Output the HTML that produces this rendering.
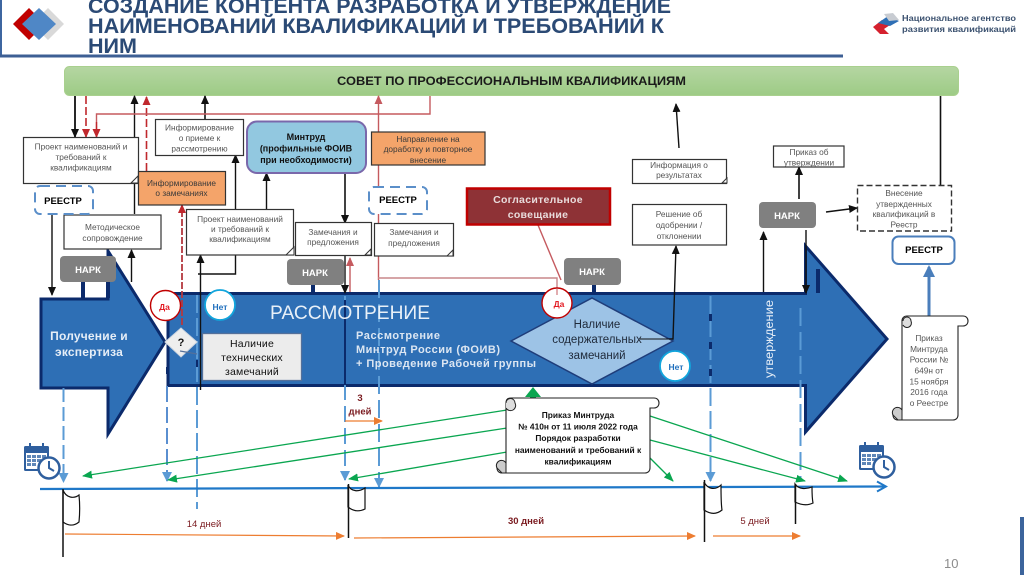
<!DOCTYPE html>
<html lang="ru"><head><meta charset="utf-8"><title>Создание контента</title>
<style>html,body{margin:0;padding:0;background:#fff}svg{display:block}text{font-family:"Liberation Sans",sans-serif}</style></head>
<body>
<svg xmlns="http://www.w3.org/2000/svg" width="1024" height="575" viewBox="0 0 1024 575">
<defs>
<linearGradient id="g" x1="0" y1="0" x2="0" y2="1"><stop offset="0" stop-color="#b5d6a2"/><stop offset="1" stop-color="#9dcb85"/></linearGradient>
<marker id="k" markerWidth="9" markerHeight="8" refX="8" refY="4" orient="auto" markerUnits="userSpaceOnUse"><path d="M0 0L9 4L0 8z" fill="#111"/></marker>
<marker id="r" markerWidth="9" markerHeight="8" refX="8" refY="4" orient="auto" markerUnits="userSpaceOnUse"><path d="M0 0L9 4L0 8z" fill="#c0282d"/></marker>
<marker id="p" markerWidth="9" markerHeight="8" refX="8" refY="4" orient="auto" markerUnits="userSpaceOnUse"><path d="M0 0L9 4L0 8z" fill="#c55a5f"/></marker>
<marker id="b" markerWidth="10" markerHeight="10" refX="9" refY="5" orient="auto" markerUnits="userSpaceOnUse"><path d="M0 0L10 5L0 10z" fill="#5b9bd5"/></marker>
<marker id="n" markerWidth="12" markerHeight="12" refX="10" refY="6" orient="auto" markerUnits="userSpaceOnUse"><path d="M0 0L12 6L0 12z" fill="#4a7ebb"/></marker>
<marker id="v" markerWidth="10" markerHeight="8" refX="9" refY="4" orient="auto" markerUnits="userSpaceOnUse"><path d="M0 0L10 4L0 8z" fill="#0aa650"/></marker>
<marker id="o" markerWidth="9" markerHeight="8" refX="8" refY="4" orient="auto" markerUnits="userSpaceOnUse"><path d="M0 0L9 4L0 8z" fill="#ed7d31"/></marker>
<marker id="t" markerWidth="12" markerHeight="12" refX="9" refY="6" orient="auto" markerUnits="userSpaceOnUse"><path d="M1 1L10 6L1 11" fill="none" stroke="#1f78c8" stroke-width="2"/></marker>
<g id="cal">
<rect x="0" y="3" width="25" height="25" rx="1.500" fill="#2f5f9e"/>
<rect x="2" y="10" width="21" height="16" fill="#fff"/>
<g fill="#5f87b8"><rect x="3" y="12" width="4" height="3"/><rect x="8" y="12" width="4" height="3"/><rect x="13" y="12" width="4" height="3"/><rect x="18" y="12" width="4" height="3"/><rect x="3" y="16" width="4" height="3"/><rect x="8" y="16" width="4" height="3"/><rect x="13" y="16" width="4" height="3"/><rect x="3" y="20" width="4" height="3"/><rect x="8" y="20" width="4" height="3"/></g>
<rect x="5" y="0" width="2" height="6" fill="#2f5f9e"/><rect x="18" y="0" width="2" height="6" fill="#2f5f9e"/>
<circle cx="25" cy="25" r="10.500" fill="#fff" stroke="#2f5f9e" stroke-width="2.500"/>
<path d="M25 18V25L30 28" fill="none" stroke="#2f5f9e" stroke-width="2"/>
</g>
</defs>
<rect width="1024" height="575" fill="#fff"/>

<!-- header -->
<rect x="0" y="0" width="2" height="56" fill="#3d66a0"/>
<rect x="0" y="54.500" width="843" height="3" fill="#3d5f94"/>
<path d="M48 8L64 24L48 40L32 24z" fill="#d9d9d9"/>
<path d="M29 8L45 24L29 40L13 24z" fill="#c00000"/>
<path d="M39 8L56 24L39 40L22 24z" fill="#4f87c6"/>
<g fill="#2b4a75" font-weight="bold" font-size="21">
<text x="88" y="13" textLength="583" lengthAdjust="spacingAndGlyphs">СОЗДАНИЕ КОНТЕНТА РАЗРАБОТКА И УТВЕРЖДЕНИЕ</text>
<text x="88" y="33" textLength="576" lengthAdjust="spacingAndGlyphs">НАИМЕНОВАНИЙ КВАЛИФИКАЦИЙ И ТРЕБОВАНИЙ К</text>
<text x="88" y="53" textLength="49" lengthAdjust="spacingAndGlyphs">НИМ</text>
</g>
<path d="M873 27L882 20L890 25L884 29L889 34L880 34z" fill="#d5212e"/>
<path d="M878 23L888 16L899 21L890 26z" fill="#2e6fb5"/>
<path d="M884 14L893 13L899 20L889 21z" fill="#c8ccd2"/>
<g fill="#3c5270" font-weight="bold" font-size="8.500">
<text x="902" y="21" textLength="114" lengthAdjust="spacingAndGlyphs">Национальное агентство</text>
<text x="902" y="32" textLength="114" lengthAdjust="spacingAndGlyphs">развития квалификаций</text>
</g>

<!-- green bar -->
<rect x="64.500" y="66.500" width="894" height="29" rx="5" fill="url(#g)" stroke="#a9d08e"/>
<text x="337" y="85" font-size="11.500" font-weight="bold" fill="#1a1a1a" textLength="349" lengthAdjust="spacingAndGlyphs">СОВЕТ ПО ПРОФЕССИОНАЛЬНЫМ КВАЛИФИКАЦИЯМ</text>

<!-- main arrows -->
<path d="M41 299H108V251L165 342L108 434V388H41z" fill="#2e6fb5" stroke="#0b2a6b" stroke-width="3" stroke-linejoin="miter"/>
<path d="M168 293.500H805.500V246L887 339L805.500 432V385.500H168z" fill="#2e6fb5" stroke="#0b2a6b" stroke-width="3"/>
<g fill="#0b2a6b">
<rect x="81" y="282" width="4" height="16"/><rect x="106" y="282" width="4" height="16"/>
<rect x="311" y="285" width="4" height="8"/><rect x="592" y="285" width="4" height="8"/><rect x="816" y="269" width="4" height="24"/>
</g>

<!-- blue dashed verticals -->
<g fill="none" stroke="#5b9bd5" stroke-width="2">
<path d="M63.500 388V482" stroke-dasharray="14 5" marker-end="url(#b)"/>
<path d="M167 386V481" stroke-dasharray="16 5" marker-end="url(#b)" stroke="#5a8fd0"/>
<path d="M197 295V509" stroke-dasharray="18 5"/>
<path d="M345 296V480" stroke-dasharray="16 6" marker-end="url(#b)"/>
<path d="M379 280V487" stroke-dasharray="18 6" marker-end="url(#b)"/>
<path d="M710.500 296V481" stroke-dasharray="18 5" marker-end="url(#b)"/>
<path d="M800.500 308V480" stroke-dasharray="18 6"/>
</g>
<g fill="#0b2a6b"><rect x="709" y="314" width="3" height="7"/><rect x="709" y="342" width="3" height="7"/><rect x="709" y="369" width="3" height="7"/><rect x="166" y="367" width="3" height="7"/><rect x="196" y="360" width="2" height="7"/><rect x="344" y="300" width="2" height="85" /></g>

<!-- black connectors -->
<g fill="none" stroke="#111" stroke-width="1.400">
<path d="M75 96V137" marker-end="url(#k)" stroke-width="1.800"/>
<path d="M134.500 214V96" marker-end="url(#k)"/>
<path d="M205 119V96" marker-end="url(#k)" stroke-width="1.600"/>
<path d="M235.500 209V155" marker-end="url(#k)"/>
<path d="M266.500 209V173" marker-end="url(#k)"/>
<path d="M235.500 255V274H198"/>
<path d="M200.500 390V255" marker-end="url(#k)"/>
<path d="M131.500 282V250" marker-end="url(#k)"/>
<path d="M52 214V295" marker-end="url(#k)"/>
<path d="M345 173V223" marker-end="url(#k)" stroke-width="1.600"/>
<path d="M345 255V293" marker-end="url(#k)"/>
<path d="M600 339H673L676 246" marker-end="url(#k)"/>
<path d="M679 148L676 104" marker-end="url(#k)"/>
<path d="M763.500 292V232" marker-end="url(#k)"/>
<path d="M799 199V167" marker-end="url(#k)" stroke-width="1.600"/>
<path d="M826 212L857 208" marker-end="url(#k)"/>
<path d="M806 230V293" marker-end="url(#k)"/>
<path d="M940.500 96V198" marker-end="url(#k)" stroke-width="1.600"/>
</g>

<!-- red connectors -->
<g fill="none" stroke-width="1.400">
<path d="M86 96V137" stroke="#c0282d" stroke-dasharray="8 3" marker-end="url(#r)" stroke-width="1.600"/>
<path d="M146.500 171V97" stroke="#c0282d" stroke-dasharray="8 3" marker-end="url(#r)" stroke-width="1.600"/>
<path d="M96.500 137V114H430V96" stroke="#c55a5f"/>
<path d="M96.500 122V137" stroke="#c0282d" marker-end="url(#r)"/>
<path d="M182 325V205" stroke="#b5393f" stroke-dasharray="7 2" marker-end="url(#r)" stroke-width="1.800"/>
<path d="M378.500 280V96" stroke="#c55a5f" marker-end="url(#p)"/>
<path d="M350 292V258" stroke="#c55a5f" marker-end="url(#p)"/>
<path d="M378 278H557V292" stroke="#c9878a"/>
<path d="M538 225L561 280" stroke="#c55a5f"/>
</g>

<!-- boxes -->
<g fill="#fff" stroke="#333" stroke-width="1.200">
<rect x="23.500" y="137.500" width="115" height="46"/>
<rect x="155.500" y="119.500" width="88" height="36"/>
<rect x="64" y="215" width="97" height="34"/>
<rect x="186.500" y="209.500" width="107" height="45.500"/>
<rect x="295.500" y="222.500" width="76" height="33"/>
<rect x="374.500" y="223.500" width="79" height="32.500"/>
<rect x="632.500" y="159.500" width="94" height="24"/>
<rect x="632.500" y="204.500" width="94" height="40.500"/>
<rect x="773.500" y="146" width="70.500" height="21"/>
</g>
<g fill="#fff" stroke="#333"><path d="M131 183L138 176V183z"/><path d="M286 255L294 247V255z"/><path d="M365 255L371 249V255z"/><path d="M447 256L453 250V256z"/><path d="M722 183L727 178V183z"/></g>
<rect x="857.500" y="185.500" width="94" height="45.500" fill="#fff" stroke="#333" stroke-width="1.400" stroke-dasharray="6 3"/>
<rect x="138.500" y="171.500" width="87" height="33.500" fill="#f4a46a" stroke="#333" stroke-width="1.200"/>
<rect x="371.500" y="132" width="113.500" height="33" fill="#f4a46a" stroke="#333" stroke-width="1.200"/>
<rect x="247" y="121.500" width="119" height="51.500" rx="10" fill="#92c8e0" stroke="#7a68ab" stroke-width="2"/>
<rect x="35" y="186" width="58" height="28" rx="5" fill="#fff" stroke="#5b8fc9" stroke-width="2" stroke-dasharray="10 6"/>
<rect x="369" y="187" width="58" height="27" rx="5" fill="#fff" stroke="#5b8fc9" stroke-width="2" stroke-dasharray="10 6"/>
<rect x="892.500" y="236.500" width="62" height="27.500" rx="6" fill="#fff" stroke="#4a7ebb" stroke-width="2"/>
<rect x="467" y="188.500" width="143" height="36" fill="#8e3236" stroke="#c00000" stroke-width="2.500"/>
<g fill="#808080">
<rect x="60" y="256" width="56" height="26" rx="4"/><rect x="287" y="259" width="57" height="26" rx="4"/><rect x="564" y="258" width="57" height="27" rx="4"/><rect x="759" y="202" width="57" height="26" rx="4"/>
</g>

<!-- box text -->
<g fill="#555" font-size="8.300" text-anchor="middle">
<text x="81" y="149.500">Проект наименований и</text><text x="81" y="160">требований к</text><text x="81" y="170.500">квалификациям</text>
<text x="199.500" y="130.500">Информирование</text><text x="199.500" y="141">о приеме к</text><text x="199.500" y="151.500">рассмотрению</text>
<text x="112.500" y="230">Методическое</text><text x="112.500" y="241">сопровождение</text>
<text x="240" y="222">Проект наименований</text><text x="240" y="232">и требований к</text><text x="240" y="242">квалификациям</text>
<text x="333" y="235">Замечания и</text><text x="333" y="245">предложения</text>
<text x="414" y="235">Замечания и</text><text x="414" y="246">предложения</text>
<text x="679" y="168">Информация о</text><text x="679" y="178">результатах</text>
<text x="679" y="217">Решение об</text><text x="679" y="228">одобрении /</text><text x="679" y="239">отклонении</text>
<text x="809" y="155">Приказ об</text><text x="809" y="165.500">утверждении</text>
<text x="904" y="196">Внесение</text><text x="904" y="207">утвержденных</text><text x="904" y="217">квалификаций в</text><text x="904" y="227.500">Реестр</text>
</g>
<g fill="#3a3a3a" font-size="8.300" text-anchor="middle">
<text x="181.500" y="186">Информирование</text><text x="181.500" y="196">о замечаниях</text>
<text x="428" y="142">Направление на</text><text x="428" y="152">доработку и повторное</text><text x="428" y="163">внесение</text>
</g>
<g fill="#111" font-size="9" font-weight="bold" text-anchor="middle">
<text x="306" y="140">Минтруд</text><text x="306" y="151.500">(профильные ФОИВ</text><text x="306" y="163">при необходимости)</text>
</g>
<g fill="#000" font-size="9.500" font-weight="bold" text-anchor="middle">
<text x="63" y="204">РЕЕСТР</text><text x="398" y="203">РЕЕСТР</text><text x="924" y="253">РЕЕСТР</text>
</g>
<g fill="#fff" font-size="9.500" font-weight="bold" text-anchor="middle">
<text x="88" y="273">НАРК</text><text x="315" y="276">НАРК</text><text x="592" y="275">НАРК</text><text x="787" y="219">НАРК</text>
</g>
<g fill="#e9dcdc" font-size="10.500" font-weight="bold" text-anchor="middle" letter-spacing=".3">
<text x="538" y="203">Согласительное</text><text x="538" y="218">совещание</text>
</g>

<!-- arrow content -->
<g fill="#e6eef7" font-size="12" font-weight="bold" text-anchor="middle" letter-spacing=".2">
<text x="89" y="340">Получение и</text><text x="89" y="356">экспертиза</text>
</g>
<text x="270" y="319" fill="#e8f0f8" font-size="19.500" textLength="160" lengthAdjust="spacingAndGlyphs">РАССМОТРЕНИЕ</text>
<g fill="#dce6f2" font-size="11" font-weight="bold">
<text x="356" y="339" textLength="84">Рассмотрение</text><text x="356" y="353" textLength="144">Минтруд России (ФОИВ)</text><text x="356" y="367" textLength="180">+ Проведение Рабочей группы</text>
</g>
<text transform="translate(773,378) rotate(-90)" fill="#e6eef7" font-size="12" textLength="78" lengthAdjust="spacingAndGlyphs">утверждение</text>

<path d="M511 341L592 298L673 341L592 384z" fill="#9dc3e6" stroke="#1f3d7a" stroke-width="1.500"/>
<g fill="#1f2a3a" font-size="11.500" text-anchor="middle">
<text x="597" y="328">Наличие</text><text x="597" y="343">содержательных</text><text x="597" y="359">замечаний</text>
</g>
<path d="M640 339H673" fill="none" stroke="#111"/>

<path d="M165 342L181 328L197 342L181 357z" fill="#eee" stroke="#cdd5df" stroke-width="1"/>
<text x="181" y="346" text-anchor="middle" font-size="11" font-weight="bold" fill="#111">?</text>
<path d="M180 351L197 354" stroke="#54709a" stroke-width="1.300"/>
<rect x="202.500" y="333.500" width="99" height="47" fill="#ececec" stroke="#54709a" stroke-width="1.300"/>
<g fill="#111" font-size="10.500" text-anchor="middle" letter-spacing=".2">
<text x="252" y="347">Наличие</text><text x="252" y="361">технических</text><text x="252" y="375">замечаний</text>
</g>

<g font-size="8.500" font-weight="bold" text-anchor="middle">
<circle cx="165.500" cy="305.500" r="15" fill="#fff" stroke="#c00000" stroke-width="1.400"/><text x="164.500" y="310" fill="#e31b23">Да</text>
<circle cx="220" cy="305" r="15" fill="#fff" stroke="#12a5dc" stroke-width="1.800"/><text x="220" y="310" fill="#1f6fbd">Нет</text>
<circle cx="557" cy="303" r="15" fill="#fff" stroke="#c00000" stroke-width="1.400"/><text x="559" y="307" fill="#e31b23">Да</text>
<circle cx="675" cy="366" r="15" fill="#fff" stroke="#12a5dc" stroke-width="1.800"/><text x="676" y="370" fill="#1f6fbd">Нет</text>
</g>
<path d="M557 288V295" stroke="#c55a5f"/>

<!-- timeline -->
<path d="M40 489L885 486.500" fill="none" stroke="#1f78c8" stroke-width="2.200" marker-end="url(#t)"/>

<!-- flags -->
<g fill="#fff" stroke="#111" stroke-width="1.200">
<path d="M63 490C66 498 74 499 79 495C80 505 80 512 79 522C73 527 67 525 63 522z"/>
<path d="M348 485C351 492 359 492 365 488C365 496 365 504 365 509C359 512 353 511 348 507z"/>
<path d="M704 482C708 490 716 490 721 485C721 495 721 504 722 510C716 515 710 514 704 510z"/>
<path d="M795 484C799 490 807 489 812 487C812 494 812 498 813 503C807 506 801 505 795 502z"/>
</g>
<g stroke="#111" stroke-width="1.500"><path d="M63 489V557"/><path d="M348.500 484V538"/><path d="M704.500 480V542"/><path d="M795.500 484V524"/></g>

<!-- orange -->
<g fill="none" stroke="#ed7d31" stroke-width="1.200">
<path d="M65 534L344 536" marker-end="url(#o)"/>
<path d="M354 538L695 536" marker-end="url(#o)"/>
<path d="M713 536H800" marker-end="url(#o)"/>
<path d="M345 421H382" marker-end="url(#o)"/>
</g>
<g fill="#7a1a1f" font-size="9.500" text-anchor="middle">
<text x="204" y="527">14 дней</text>
<text x="755" y="524">5 дней</text>
<text x="526" y="524" font-weight="bold">30 дней</text>
<text x="360" y="401" font-weight="bold">3</text>
<text x="360" y="414.500" font-weight="bold">дней</text>
</g>

<!-- green -->
<g fill="none" stroke="#0aa650" stroke-width="1.300">
<path d="M507 410L83 476" marker-end="url(#v)"/>
<path d="M507 428L168 480" marker-end="url(#v)"/>
<path d="M507 452L349 479" marker-end="url(#v)"/>
<path d="M650 416L847 481" marker-end="url(#v)"/>
<path d="M650 440L805 481" marker-end="url(#v)"/>
<path d="M650 458L673 481" marker-end="url(#v)"/>
</g>
<path d="M533 387L541 397H536V399H530V397H525z" fill="#0aa650"/>

<!-- center scroll -->
<path d="M506 403C506 399 508 398 511 398H654C657 398 659 400 659 403C659 406 657 408 654 408H650V468C650 471 648 473 645 473H502C499 473 497 471 497 468C497 465 499 463 503 463H506z" fill="#fff" stroke="#222" stroke-width="1.100"/>
<path d="M506 403A4 4 0 0 1 515 403A4 4 0 0 1 506 408" fill="#ddd" stroke="#222"/>
<path d="M497 468A5 5 0 0 1 506 463V473H502z" fill="#ccc" stroke="#222"/>
<g fill="#111" font-size="8.400" font-weight="bold" text-anchor="middle">
<text x="578" y="418">Приказ Минтруда</text>
<text x="578" y="429.500">№ 410н от 11 июля 2022 года</text>
<text x="578" y="441">Порядок разработки</text>
<text x="578" y="453">наименований и требований к</text>
<text x="578" y="464.500">квалификациям</text>
</g>

<!-- right scroll -->
<path d="M929 316V267" fill="none" stroke="#4a7ebb" stroke-width="3" marker-end="url(#n)"/>
<path d="M902 321C902 318 904 316 907 316H963C966 316 968 318 968 321C968 324 966 326 963 326H958V415C958 418 956 420 953 420H898C895 420 893 418 893 415C893 412 895 410 898 410H902z" fill="#fff" stroke="#222" stroke-width="1.100"/>
<path d="M903 321A4 4 0 0 1 911 321A4 4 0 0 1 903 325" fill="#ddd" stroke="#222"/>
<path d="M893 415A5 5 0 0 1 902 410V420H898z" fill="#ccc" stroke="#222"/>
<g fill="#555" font-size="8.300" text-anchor="middle">
<text x="929" y="341">Приказ</text><text x="929" y="352">Минтруда</text><text x="929" y="362.500">России №</text><text x="929" y="373.500">649н от</text><text x="929" y="384.500">15 ноября</text><text x="929" y="395">2016 года</text><text x="929" y="406">о Реестре</text>
</g>

<use href="#cal" x="24" y="443"/>
<use href="#cal" x="859" y="442"/>

<text x="944" y="568" fill="#8c8c8c" font-size="13">10</text>
<rect x="1020" y="517" width="4" height="58" fill="#3c649c"/>
</svg>
</body></html>
